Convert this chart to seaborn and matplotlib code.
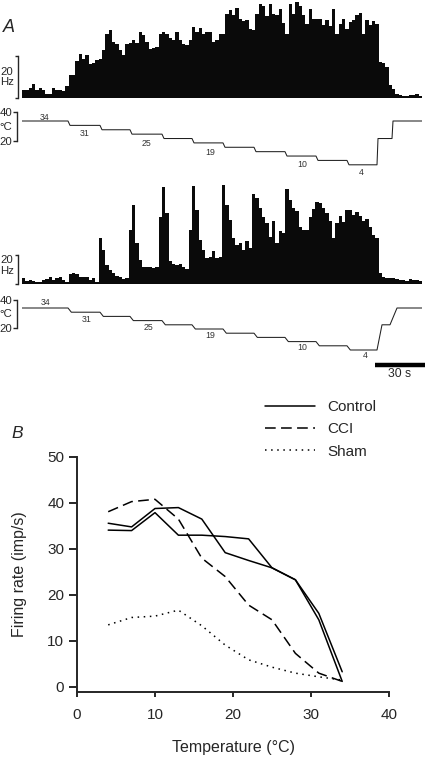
import numpy as np
import pandas as pd
import matplotlib
matplotlib.use("Agg")
import matplotlib.pyplot as plt
from matplotlib.lines import Line2D
import seaborn as sns

sns.set_style("ticks")
plt.rcParams["font.family"] = ["Liberation Sans", "DejaVu Sans"]

# -------------------- Data: panel A --------------------
BIN_S = 2  # histogram bin width (s)

# firing rate (Hz), 2 s bins, first recording
rate_top_hz = [
    4.0, 3.7, 4.9, 6.8, 3.7, 4.8, 4.0, 2.1, 1.7, 4.9,
    4.0, 3.7, 3.3, 5.6, 10.8, 10.8, 17.6, 20.8, 18.7, 20.3,
    16.0, 16.7, 18.3, 18.7, 22.7, 30.6, 32.5, 26.7, 25.9, 23.0,
    20.3, 25.9, 26.2, 27.5, 26.2, 31.4, 29.8, 26.7, 23.5, 24.0,
    24.3, 30.6, 31.4, 30.6, 28.7, 27.5, 31.4, 27.5, 25.9, 25.1,
    27.8, 33.8, 31.4, 33.5, 30.6, 31.4, 31.4, 26.7, 27.8, 30.6,
    30.6, 40.2, 42.1, 39.4, 43.0, 37.8, 36.7, 37.0, 33.0, 32.2,
    40.2, 44.6, 43.7, 38.9, 44.6, 40.2, 39.4, 42.5, 35.7, 30.6,
    44.9, 40.2, 45.7, 43.7, 39.4, 35.4, 42.5, 37.8, 37.8, 37.8,
    34.6, 37.0, 34.1, 42.5, 30.6, 35.4, 37.8, 33.0, 36.2, 37.0,
    39.4, 40.5, 30.6, 37.0, 34.6, 36.7, 35.4, 17.1, 16.7, 14.8,
    6.0, 4.4, 2.1, 1.3, 1.0, 1.0, 1.3, 1.6, 2.1, 0.8,
]

# firing rate (Hz), 2 s bins, second recording
rate_bottom_hz = [
    3.7, 1.4, 2.5, 1.4, 0.7, 1.2, 2.5, 3.0, 4.4, 2.5,
    3.5, 4.8, 2.5, 1.2, 6.4, 7.1, 6.7, 4.8, 4.4, 4.8,
    2.5, 3.7, 0.7, 31.3, 23.2, 12.9, 9.4, 7.1, 5.3, 4.8,
    3.0, 3.7, 37.0, 54.3, 27.8, 16.3, 11.3, 11.3, 11.3, 10.6,
    11.3, 46.2, 66.5, 48.5, 15.2, 13.6, 12.9, 13.6, 11.3, 9.9,
    37.0, 67.4, 50.8, 30.1, 23.2, 17.5, 18.6, 22.1, 17.5, 18.6,
    68.1, 54.3, 43.9, 31.3, 26.7, 27.8, 23.2, 29.0, 24.4, 61.9,
    58.9, 52.0, 46.2, 41.6, 32.4, 42.8, 27.8, 35.9, 34.7, 65.1,
    57.7, 52.0, 49.7, 39.3, 37.0, 37.0, 46.2, 51.3, 55.9, 55.4,
    52.0, 48.5, 42.8, 31.3, 41.6, 46.7, 42.1, 50.8, 50.8, 47.4,
    49.2, 46.7, 42.8, 44.4, 39.3, 33.6, 31.3, 7.1, 4.8, 4.1,
    3.7, 3.5, 3.0, 2.1, 2.1, 1.8, 3.0, 2.5, 2.1, 1.4,
]

# bath temperature protocol (°C) and times of each change (s)
step_temps = [34, 31, 28, 25, 22, 19, 16, 13, 10, 7, 4, 22, 34]
change_t_top = [27.6, 46.8, 64.8, 84.0, 102.0, 120.6, 139.2, 157.8, 176.4, 195.0, 213.0, 222.0]
ramp_top = [1.2, 1.2, 1.2, 1.2, 1.2, 1.2, 1.2, 1.2, 1.2, 1.2, 0.6, 0.6]
change_t_bottom = [27.6, 46.8, 64.8, 84.0, 102.0, 120.6, 139.2, 157.8, 176.4, 195.0, 213.0, 220.8]
ramp_bottom = [2.0, 2.0, 2.0, 2.0, 2.0, 2.0, 2.0, 2.0, 2.0, 2.0, 3.0, 4.2]
T_END = 240

trace_labels = ["34", "31", "25", "19", "10", "4"]
lab_t_top = [13.8, 37.8, 74.4, 112.8, 168.0, 203.4]
lab_y_top = [36.7, 25.1, 18.9, 12.1, 3.9, -1.6]
lab_t_bottom = [14.4, 39.0, 75.6, 112.8, 168.0, 205.8]
lab_y_bottom = [37.6, 26.1, 20.4, 14.0, 6.1, 0.4]

# -------------------- Data: panel B --------------------
temp_c = [4, 7, 10, 13, 16, 19, 22, 25, 28, 31, 34]
control_a = [35.6, 34.8, 38.8, 39.0, 36.5, 29.2, 27.5, 25.9, 23.3, 16.0, 3.3]
control_b = [34.1, 34.0, 37.9, 33.0, 33.0, 32.7, 32.2, 25.9, 23.3, 14.6, 1.2]
cci = [38.1, 40.3, 40.8, 36.5, 28.0, 24.0, 17.8, 14.6, 7.3, 3.0, 1.2]
sham = [13.5, 15.1, 15.4, 16.7, 13.3, 9.1, 5.9, 4.3, 3.0, 2.2, 1.5]

# -------------------- Figure --------------------
W, H = 426, 758
fig = plt.figure(figsize=(W / 100, H / 100), dpi=100)
SMALL = 8.2


def px_axes(top, bottom, left=22, right=422):
    return fig.add_axes([left / W, 1 - bottom / H, (right - left) / W, (bottom - top) / H])


def trace(times, ramps):
    t, y = [0], [step_temps[0]]
    for i, tc in enumerate(times):
        t += [tc, tc + ramps[i]]
        y += [step_temps[i], step_temps[i + 1]]
    t.append(T_END)
    y.append(step_temps[-1])
    return pd.DataFrame({"time": t, "temp": y})


def rate_hist(ax, rates, ymax, text_y):
    n = len(rates)
    hist_df = pd.DataFrame({"t": np.arange(n) * BIN_S + BIN_S / 2, "rate": rates})
    sns.histplot(data=hist_df, x="t", weights="rate", binwidth=BIN_S,
                 binrange=(0, n * BIN_S), element="step", fill=True,
                 color="#0a0a0a", alpha=1, linewidth=0, ax=ax)
    ax.set_xlim(0, T_END)
    ax.set_ylim(0, ymax)
    for s in ["top", "right", "bottom"]:
        ax.spines[s].set_visible(False)
    ax.spines["left"].set_position(("outward", 2.9))
    ax.spines["left"].set_bounds(0, 20)
    ax.spines["left"].set_linewidth(1.0)
    ax.set_yticks([0, 20])
    ax.set_yticklabels([])
    ax.tick_params(axis="y", length=2.2, width=1.0)
    ax.set_xticks([])
    ax.set_xlabel("")
    ax.set_ylabel("")
    ax.text(-0.021, text_y, "20\nHz", transform=ax.get_yaxis_transform(), ha="right",
            va="center", fontsize=SMALL, linespacing=1.1)


def temp_trace(ax, df, ylim, lab_t, lab_y):
    sns.lineplot(data=df, x="time", y="temp", sort=False, estimator=None,
                 color="#202020", lw=0.75, ax=ax)
    ax.set_xlim(0, T_END)
    ax.set_ylim(*ylim)
    for s in ["top", "right", "bottom"]:
        ax.spines[s].set_visible(False)
    ax.spines["left"].set_position(("outward", 3.8))
    ax.spines["left"].set_bounds(20, 40)
    ax.spines["left"].set_linewidth(1.0)
    ax.set_yticks([20, 40])
    ax.set_yticklabels(["20", "40"], fontsize=SMALL)
    ax.tick_params(axis="y", length=2.6, width=1.0, pad=0.4)
    ax.set_xticks([])
    ax.set_xlabel("")
    ax.set_ylabel("")
    ax.text(-0.025, 30, "°C", transform=ax.get_yaxis_transform(), ha="right",
            va="center", fontsize=SMALL)
    for lab, tx, ty in zip(trace_labels, lab_t, lab_y):
        ax.text(tx, ty, lab, ha="center", va="center", fontsize=6.3, color="#333333",
                clip_on=False)


ax_h1 = px_axes(0, 98)
rate_hist(ax_h1, rate_top_hz, 98 * 20 / 42, 10)

ax_t1 = px_axes(105, 180)
temp_trace(ax_t1, trace(change_t_top, ramp_top), (-6.41, 44.96), lab_t_top, lab_y_top)

ax_h2 = px_axes(180, 283.5)
rate_hist(ax_h2, rate_bottom_hz, 103.5 * 20 / 29, 12.5)

ax_t2 = px_axes(290, 370)
temp_trace(ax_t2, trace(change_t_bottom, ramp_bottom), (-10.29, 46.86), lab_t_bottom, lab_y_bottom)

# 30 s scale bar
ax_t2.plot([211.8, 241.8], [-6.9, -6.9], color="black", lw=3.2, solid_capstyle="butt",
           clip_on=False)
ax_t2.text(226.8, -8.6, "30 s", ha="center", va="top", fontsize=SMALL + 0.5, clip_on=False)

fig.text(9 / W, 1 - 27 / H, "A", fontsize=13, style="italic", ha="center", va="center")

# -------------------- Panel B --------------------
ax = px_axes(457, 692, left=77, right=389)
dash_cci = (7, 3.5)
dot_sham = (1, 3)
sns.lineplot(x=temp_c, y=control_a, color="black", lw=1.1, ax=ax)
sns.lineplot(x=temp_c, y=control_b, color="black", lw=1.1, ax=ax)
sns.lineplot(x=temp_c, y=cci, color="black", lw=1.1, ax=ax)
sns.lineplot(x=temp_c, y=sham, color="black", lw=1.1, ax=ax)
for ln, d in zip(ax.lines[2:4], [dash_cci, dot_sham]):
    ln.set_dashes(d)

ax.set_xlim(0, 40)
ax.set_ylim(-1.1, 50)
ax.set_xticks([0, 10, 20, 30, 40])
ax.set_yticks([0, 10, 20, 30, 40, 50])
ax.spines["top"].set_visible(False)
ax.spines["right"].set_visible(False)
for s in ["left", "bottom"]:
    ax.spines[s].set_linewidth(1.4)
ax.tick_params(axis="y", length=5.6, width=1.4, pad=3.5, labelsize=11)
ax.tick_params(axis="x", length=3.6, width=1.4, pad=8, labelsize=11)
ax.set_xlabel("Temperature (°C)", fontsize=11.5, labelpad=13)
ax.set_ylabel("Firing rate (imp/s)", fontsize=11.5, labelpad=15)

handles = [
    Line2D([], [], color="black", lw=1.1),
    Line2D([], [], color="black", lw=1.1, dashes=dash_cci),
    Line2D([], [], color="black", lw=1.1, dashes=dot_sham),
]
fig.legend(handles, ["Control", "CCI", "Sham"], loc="upper left",
           bbox_to_anchor=(265 / W, 1 - 400 / H), frameon=False, fontsize=11,
           handlelength=3.3, handletextpad=0.75, labelspacing=0.55, borderpad=0,
           borderaxespad=0)

fig.text(17 / W, 1 - 434 / H, "B", fontsize=12.5, style="italic", ha="center", va="center")

fig.savefig("out.png", dpi=100)
